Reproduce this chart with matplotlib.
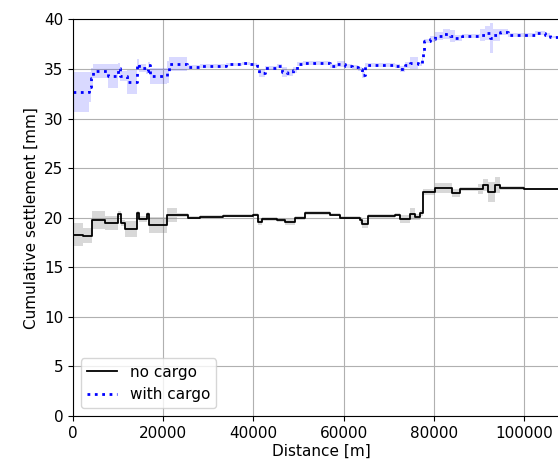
import numpy as np
import matplotlib.pyplot as plt

# no cargo: step positions [m], settlement [mm], half-width of band [mm]
d_no = [0, 2200, 4200, 7100, 10000, 10600, 11500, 14200, 14600, 16400, 16900,
        20800, 23000, 25500, 28200, 33300, 40000, 41000, 42000, 45200, 47000,
        49200, 51400, 57000, 59200, 63600, 64100, 65400, 71400, 72500, 74700,
        75800, 76900, 77600, 80300, 84000, 85800, 89800, 90900, 92000, 93600,
        94700, 100000, 105300, 110000]
s_no = [18.3, 18.2, 19.8, 19.5, 20.4, 19.5, 18.9, 20.5, 19.9, 20.4, 19.3,
        20.3, 20.3, 20.0, 20.1, 20.2, 20.3, 19.6, 19.9, 19.8, 19.6,
        20.0, 20.5, 20.3, 20.0, 19.8, 19.4, 20.2, 20.3, 19.9, 20.4,
        20.1, 20.5, 22.6, 23.0, 22.5, 22.9, 22.9, 23.3, 22.6, 23.3,
        23.0, 22.9, 22.9, 22.8]
e_no = [1.2, 0.8, 0.9, 0.7, 0.3, 0.3, 0.8, 0.2, 0.3, 0.2, 0.8,
        0.7, 0.2, 0.15, 0.15, 0.15, 0.15, 0.3, 0.2, 0.2, 0.3,
        0.2, 0.2, 0.15, 0.15, 0.3, 0.4, 0.2, 0.15, 0.4, 0.6,
        0.3, 0.3, 0.3, 0.5, 0.4, 0.2, 0.5, 0.6, 1.0, 0.8,
        0.2, 0.1, 0.1, 0.1]

# with cargo
d_w = [0, 3500, 4000, 4400, 7800, 10000, 10400, 12000, 14200, 14600, 16200,
       16600, 17100, 20800, 21300, 25300, 28200, 33900, 37500, 39200, 40800,
       41200, 42600, 45200, 46300, 47500, 48800, 49700, 51000, 57000, 58500,
       60300, 61900, 63200, 64100, 64700, 71400, 72500, 73600, 74700, 76500,
       77400, 77600, 77800, 79200, 80300, 82000, 83600, 84700, 86300, 90200,
       91400, 92500, 93100, 94700, 96500, 102400, 104700, 105800, 110000]
s_w = [32.7, 33.2, 34.1, 34.8, 34.3, 35.1, 34.3, 33.7, 35.5, 35.1, 34.8,
       35.4, 34.3, 34.7, 35.5, 35.2, 35.3, 35.5, 35.6, 35.5, 35.3,
       34.6, 35.1, 35.3, 34.7, 34.6, 34.9, 35.5, 35.6, 35.3, 35.5,
       35.3, 35.2, 35.0, 34.4, 35.4, 35.3, 35.0, 35.4, 35.6, 35.5,
       35.9, 36.8, 37.8, 38.0, 38.3, 38.5, 38.3, 38.1, 38.3, 38.4,
       38.6, 38.1, 38.4, 38.7, 38.4, 38.6, 38.4, 38.2, 38.2]
e_w = [2.0, 1.5, 1.0, 0.7, 1.2, 0.5, 0.5, 1.2, 0.5, 0.4, 0.3,
       0.3, 0.8, 1.1, 0.7, 0.2, 0.2, 0.15, 0.15, 0.15, 0.2,
       0.4, 0.2, 0.2, 0.5, 0.3, 0.3, 0.2, 0.2, 0.2, 0.3,
       0.2, 0.2, 0.2, 0.3, 0.2, 0.2, 0.3, 0.3, 0.6, 0.2,
       0.2, 0.2, 0.2, 0.3, 0.4, 0.5, 0.6, 0.3, 0.2, 0.6,
       0.7, 1.5, 0.6, 0.3, 0.2, 0.2, 0.2, 0.1, 0.1]

d_no, s_no, e_no = map(np.array, (d_no, s_no, e_no))
d_w, s_w, e_w = map(np.array, (d_w, s_w, e_w))

fig = plt.figure(figsize=(5.58, 4.66), dpi=100)
ax = fig.add_axes([0.1308, 0.1073, 0.889, 0.851])

ax.fill_between(d_no, s_no - e_no, s_no + e_no, step='post',
                color='grey', alpha=0.3, linewidth=0)
ax.step(d_no, s_no, where='post', color='k', linewidth=1.3, label='no cargo')

ax.fill_between(d_w, s_w - e_w, s_w + e_w, step='post',
                color='blue', alpha=0.15, linewidth=0)
ax.step(d_w, s_w, where='post', color='blue', linestyle=':', linewidth=2,
        label='with cargo')

ax.set_xlim(0, 110000)
ax.set_ylim(0, 40)
ax.set_xticks([0, 20000, 40000, 60000, 80000, 100000])
ax.tick_params(labelsize=11)
ax.grid(True)
ax.set_axisbelow(True)
ax.set_xlabel('Distance [m]', fontsize=11, labelpad=2)
ax.set_ylabel('Cumulative settlement [mm]', fontsize=11)
ax.legend(loc='lower left', fontsize=11)

fig.savefig('out.png', dpi=100)
